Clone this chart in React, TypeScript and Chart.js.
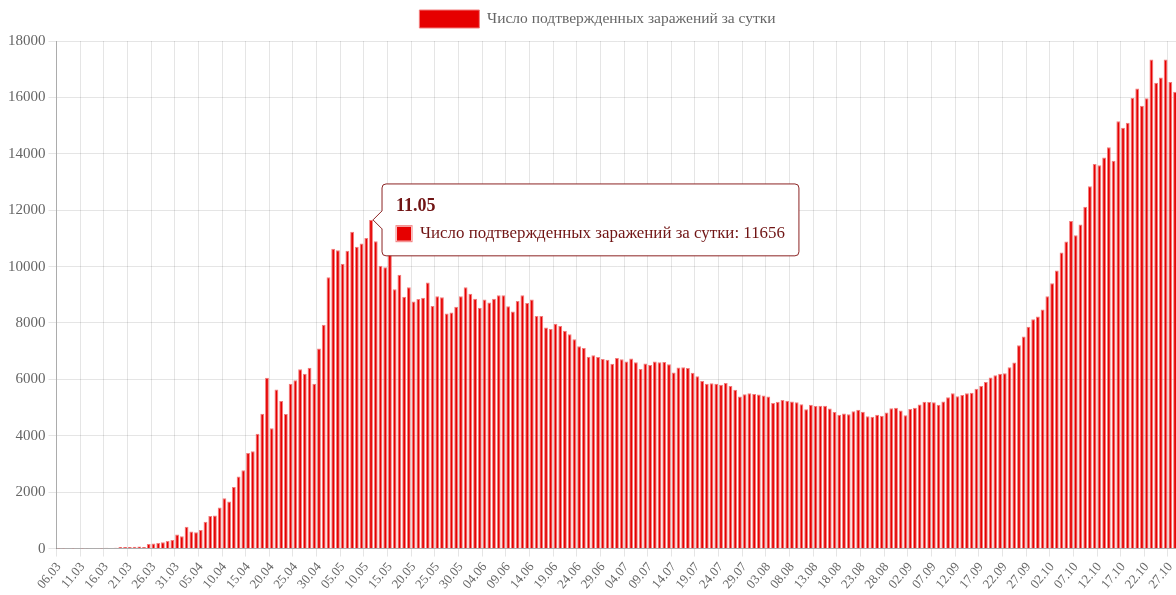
import { useEffect, useRef } from "react";
import { Chart, registerables } from "chart.js";

Chart.register(...registerables);

const SERIES_LABEL = "Число подтвержденных заражений за сутки";
const FONT = '"Times New Roman", "Liberation Serif", serif';

// month suffixes, first and last day shown for each month
const MONTHS = ["03", "04", "05", "06", "07", "08", "09", "10"];
const MONTH_FIRST_DAY = [6, 1, 1, 1, 1, 1, 1, 1];
const MONTH_LAST_DAY = [31, 30, 31, 30, 31, 31, 30, 28];

const march = [1, 6, 0, 3, 0, 3, 8, 17, 14, 4, 30, 21, 33, 52, 54, 53, 61, 71, 57, 163, 182, 196, 228, 270, 302, 501];
const april = [440, 771, 601, 582, 658, 954, 1154, 1175, 1459, 1786, 1667, 2186, 2558, 2774, 3388, 3448, 4070, 4785, 6060, 4268, 5642, 5236, 4774, 5849, 5966, 6361, 6198, 6411, 5841, 7099];
const may = [7933, 9623, 10633, 10581, 10102, 10559, 11231, 10699, 10817, 11012, 11656, 10899, 10028, 9974, 10598, 9200, 9709, 8926, 9263, 8764, 8849, 8894, 9434, 8599, 8946, 8915, 8338, 8371, 8572, 8952, 9268];
const june = [9035, 8863, 8536, 8831, 8726, 8855, 8984, 8985, 8595, 8404, 8779, 8987, 8706, 8835, 8246, 8248, 7843, 7790, 7972, 7889, 7728, 7600, 7425, 7176, 7113, 6800, 6852, 6791, 6719, 6693];
const july = [6556, 6760, 6718, 6632, 6736, 6611, 6368, 6562, 6509, 6635, 6611, 6615, 6537, 6248, 6422, 6428, 6406, 6234, 6109, 5940, 5842, 5862, 5848, 5811, 5871, 5765, 5635, 5395, 5475, 5509, 5482];
const august = [5462, 5427, 5394, 5159, 5204, 5267, 5241, 5212, 5189, 5118, 4945, 5102, 5057, 5065, 5061, 4969, 4839, 4748, 4790, 4767, 4870, 4921, 4852, 4696, 4676, 4744, 4711, 4829, 4980, 4993, 4897];
const september = [4729, 4952, 4995, 5110, 5205, 5195, 5185, 5099, 5218, 5363, 5504, 5406, 5449, 5509, 5529, 5670, 5762, 5905, 6065, 6148, 6196, 6215, 6431, 6595, 7212, 7523, 7867, 8135, 8232, 8481];
const october = [8945, 9412, 9859, 10499, 10888, 11615, 11115, 11493, 12126, 12846, 13634, 13592, 13868, 14231, 13754, 15150, 14922, 15099, 15982, 16319, 15700, 15971, 17340, 16521, 16710, 17347, 16550, 16202];

const values = [...march, ...april, ...may, ...june, ...july, ...august, ...september, ...october];

const labels: string[] = [];
MONTHS.forEach((m, i) => {
  for (let d = MONTH_FIRST_DAY[i]; d <= MONTH_LAST_DAY[i]; d++) {
    labels.push(String(d).padStart(2, "0") + "." + m);
  }
});

const Y_MAX = 18000;
const Y_STEP = 2000;
const LABEL_EVERY = 5;
const ACTIVE_LABEL = "11.05";

const GRID = "rgba(0,0,0,0.1)";

const legendSpacing = {
  id: "legendSpacing",
  beforeInit(chart: any) {
    const origFit = chart.legend.fit;
    chart.legend.fit = function () {
      origFit.bind(chart.legend)();
      this.height += 3;
    };
  },
};

export default function App() {
  const ref = useRef<HTMLCanvasElement>(null);
  useEffect(() => {
    document.body.style.margin = "0";
    document.body.style.overflow = "hidden";
    const chart = new Chart(ref.current as HTMLCanvasElement, {
      type: "bar",
      plugins: [legendSpacing],
      data: {
        labels,
        datasets: [
          {
            label: SERIES_LABEL,
            data: values,
            backgroundColor: "#e60000",
            borderColor: "#f27c7c",
            borderWidth: 1,
            categoryPercentage: 0.9,
            barPercentage: 0.9,
          },
        ],
      },
      options: {
        responsive: false,
        animation: false,
        layout: { padding: { left: 5, top: 0 } },
        plugins: {
          legend: {
            labels: {
              boxWidth: 60,
              boxHeight: 18,
              color: "#666",
              font: { family: FONT, size: 15.5 },
            },
          },
          tooltip: {
            backgroundColor: "#ffffff",
            borderColor: "#8b2323",
            borderWidth: 1,
            titleColor: "#701414",
            bodyColor: "#701414",
            titleFont: { family: FONT, size: 18, weight: "bold" },
            bodyFont: { family: FONT, size: 16.9 },
            padding: { x: 14, y: 12 },
            caretSize: 9,
            caretPadding: 2,
            cornerRadius: 4,
            boxWidth: 16,
            boxHeight: 16,
            boxPadding: 6,
            titleMarginBottom: 6,
            callbacks: {
              label: (ctx: any) => `${ctx.dataset.label}: ${ctx.raw}`,
            },
          },
        },
        scales: {
          x: {
            offset: true,
            grid: {
              offset: true,
              color: (ctx: any) => (ctx.index % LABEL_EVERY === 0 ? GRID : "rgba(0,0,0,0)"),
            },
            border: { color: "rgba(0,0,0,0.25)" },
            ticks: {
              autoSkip: false,
              maxRotation: 50,
              minRotation: 50,
              color: "#666",
              font: { family: FONT, size: 13 },
              callback: (_v: any, i: number) => (i % LABEL_EVERY === 0 ? labels[i] : ""),
            },
          },
          y: {
            min: 0,
            max: Y_MAX,
            grid: { color: GRID },
            border: { color: "rgba(0,0,0,0.25)" },
            ticks: {
              stepSize: Y_STEP,
              color: "#666",
              font: { family: FONT, size: 15 },
              callback: (v: any) => String(v),
            },
          },
        },
      },
    });
    const idx = labels.indexOf(ACTIVE_LABEL);
    chart.tooltip?.setActiveElements([{ datasetIndex: 0, index: idx }], { x: 0, y: 0 });
    chart.draw();
    return () => chart.destroy();
  }, []);
  return <canvas ref={ref} width={1190} height={595} style={{ display: "block" }} />;
}
